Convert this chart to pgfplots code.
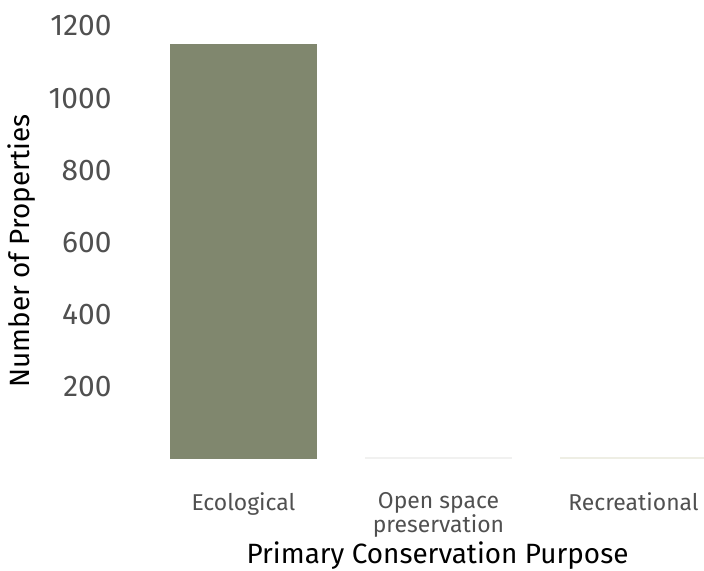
\documentclass[border=0pt]{standalone}
\usepackage{pgfplots}
\pgfplotsset{compat=1.18}
\usepackage{fontspec}
\setmainfont{Fira Sans}
\definecolor{eco}{HTML}{80876E}
\definecolor{openc}{HTML}{F1F1F0}
\definecolor{recc}{HTML}{EEEEE4}
\definecolor{tickc}{HTML}{505050}
\begin{document}
\begin{tikzpicture}[x=1bp,y=1bp]
\begin{axis}[
  name=ax,
  at={(0,0)}, anchor=south west,
  scale only axis,
  width=535bp, height=433bp,
  xmin=-0.377, xmax=2.367,
  ymin=0, ymax=1200,
  axis line style={draw=none},
  major tick length=0pt,
  ytick={200,400,600,800,1000,1200},
  xtick={0,1,2},
  xticklabels={Ecological,{Open space\\preservation},Recreational},
  xticklabel style={align=center, font=\fontsize{23}{21}\selectfont, text=tickc, anchor=north, yshift=-30bp},
  yticklabel style={font=\fontsize{30}{31}\selectfont, text=tickc, anchor=east, xshift=-55bp},
  /pgf/number format/assume math mode=true,
  /pgf/number format/1000 sep={},
  xlabel={Primary Conservation Purpose},
  ylabel={Number of Properties},
  xlabel style={font=\fontsize{28}{29}\selectfont, at={(axis description cs:0.5,0)}, anchor=center, yshift=-97bp},
  ylabel style={font=\fontsize{28}{29}\selectfont, at={(axis description cs:-0.277,0.48)}, anchor=center},
  clip=false,
]
\addplot[ybar, bar width=147bp, fill=eco, draw=none, bar shift=0pt] coordinates {(0,1150)};
\addplot[ybar, bar width=147bp, fill=openc, draw=none, bar shift=0pt] coordinates {(1,6)};
\addplot[ybar, bar width=147bp, fill=recc, draw=none, bar shift=0pt] coordinates {(2,6)};
\end{axis}
\pgfresetboundingbox
\path (-170bp,-112bp) rectangle (534bp,459bp);
\end{tikzpicture}
\end{document}
